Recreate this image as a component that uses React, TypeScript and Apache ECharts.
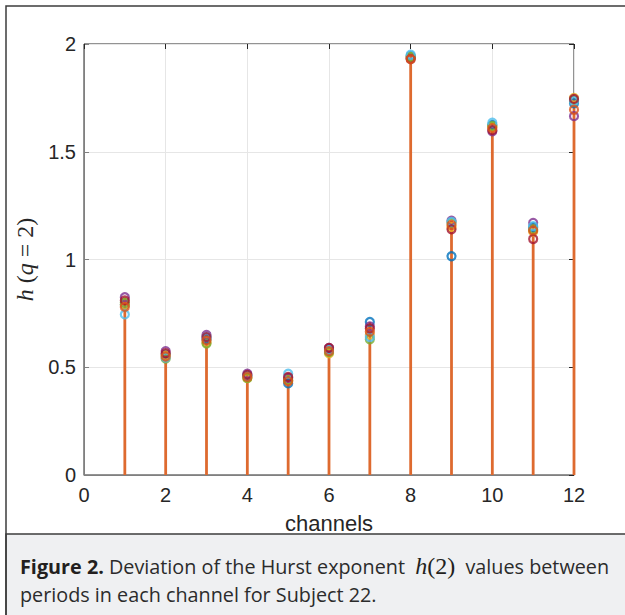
import React, { useEffect, useRef } from "react";
import * as echarts from "echarts";

const channels = [1, 2, 3, 4, 5, 6, 7, 8, 9, 10, 11, 12];
const xTicks = { min: 0, max: 12, interval: 2 };
const yTicks = { min: 0, max: 2, interval: 0.5 };

const period1 = [0.79, 0.56, 0.63, 0.46, 0.425, 0.585, 0.71, 1.945, 1.015, 1.625, 1.15, 1.725];
const period2 = [0.78, 0.55, 0.625, 0.455, 0.435, 0.575, 0.665, 1.93, 1.16, 1.61, 1.135, 1.695];
const period3 = [0.79, 0.555, 0.615, 0.45, 0.44, 0.565, 0.65, 1.94, 1.15, 1.615, 1.13, 1.75];
const period4 = [0.825, 0.575, 0.65, 0.47, 0.45, 0.59, 0.69, 1.935, 1.18, 1.595, 1.17, 1.665];
const period5 = [0.8, 0.54, 0.61, 0.45, 0.44, 0.57, 0.63, 1.94, 1.17, 1.62, 1.14, 1.74];
const period6 = [0.745, 0.545, 0.64, 0.46, 0.47, 0.58, 0.64, 1.95, 1.175, 1.635, 1.155, 1.735];
const period7 = [0.81, 0.565, 0.64, 0.465, 0.455, 0.59, 0.68, 1.93, 1.14, 1.6, 1.095, 1.745];

const periods = [period1, period2, period3, period4, period5, period6, period7];
const periodColors = ["#0072BD", "#D95319", "#EDB120", "#7E2F8E", "#77AC30", "#4DBEEE", "#A2142F"];
const drawOrder = [0, 2, 3, 4, 5, 6, 1];

const captionLine1 = "{b|Figure 2.} Deviation of the Hurst exponent  {hi|h}{hr|(2)}  values between";
const captionLine2 = "periods in each channel for Subject 22.";

const SANS = "Liberation Sans";
const SERIF = "Liberation Serif";

export default function App() {
  const ref = useRef<HTMLDivElement>(null);
  useEffect(() => {
    if (!ref.current) return;
    const chart = echarts.init(ref.current, null, { renderer: "svg" });
    const stemData = channels.map((c, i) => [c, Math.max(...periods.map((p) => p[i]))]);
    const series: any[] = [
      {
        type: "custom",
        name: "stems",
        xAxisIndex: 0,
        yAxisIndex: 0,
        data: stemData,
        encode: { x: 0, y: 1 },
        z: 2,
        renderItem: (params: any, api: any) => {
          const x = api.value(0);
          const y = api.value(1);
          const a = api.coord([x, 0]);
          const b = api.coord([x, y]);
          return {
            type: "line",
            shape: { x1: a[0], y1: a[1], x2: b[0], y2: b[1] },
            style: { stroke: "#DE6A2F", lineWidth: 2.8 },
          };
        },
      },
    ];
    drawOrder.forEach((k, j) => {
      series.push({
        type: "scatter",
        name: "Period " + (k + 1),
        xAxisIndex: 0,
        yAxisIndex: 0,
        data: channels.map((c, i) => [c, periods[k][i]]),
        symbol: "circle",
        symbolSize: 8,
        z: 3 + j,
        itemStyle: { color: "rgba(0,0,0,0)", borderColor: periodColors[k], borderWidth: 2.2 },
      });
    });
    const axisLabelStyle = { fontSize: 20, color: "#262626", fontFamily: SANS };
    chart.setOption({
      animation: false,
      backgroundColor: "#ffffff",
      grid: {
        left: 84,
        top: 44,
        width: 490,
        height: 431,
        show: true,
        borderColor: "#262626",
        borderWidth: 1,
        backgroundColor: "transparent",
      },
      xAxis: [
        {
          type: "value",
          ...xTicks,
          name: "channels",
          nameLocation: "middle",
          nameGap: 37,
          nameTextStyle: { fontSize: 22, color: "#262626", fontFamily: SANS },
          axisLine: { show: true, onZero: false, lineStyle: { color: "#808080", width: 1 } },
          axisTick: { show: true, inside: true, length: 5, lineStyle: { color: "#808080" } },
          axisLabel: { ...axisLabelStyle, margin: 10 },
          splitLine: { show: true, lineStyle: { color: "#e6e6e6", width: 1 } },
        },
        {
          type: "value",
          position: "top",
          ...xTicks,
          axisLine: { show: false, onZero: false },
          axisTick: { show: true, inside: true, length: 5, lineStyle: { color: "#262626" } },
          axisLabel: { show: false },
          splitLine: { show: false },
        },
      ],
      yAxis: [
        {
          type: "value",
          ...yTicks,
          name: "{i|h}{r| (}{i|q}{r| = 2)}",
          nameLocation: "middle",
          nameGap: 44,
          nameRotate: 90,
          nameTextStyle: {
            rich: {
              i: { fontSize: 24, fontStyle: "italic", fontFamily: SERIF, color: "#262626" },
              r: { fontSize: 24, fontFamily: SERIF, color: "#262626" },
            },
          },
          axisLine: { show: true, onZero: false, lineStyle: { color: "#808080", width: 1 } },
          axisTick: { show: true, inside: true, length: 5, lineStyle: { color: "#808080" } },
          axisLabel: { ...axisLabelStyle, margin: 8 },
          splitLine: { show: true, lineStyle: { color: "#e6e6e6", width: 1 } },
        },
        {
          type: "value",
          position: "right",
          ...yTicks,
          axisLine: { show: false, onZero: false },
          axisTick: { show: true, inside: true, length: 5, lineStyle: { color: "#262626" } },
          axisLabel: { show: false },
          splitLine: { show: false },
        },
      ],
      graphic: [
        {
          type: "rect",
          z: 0,
          shape: { x: 6, y: 534, width: 640, height: 100 },
          style: { fill: "#eff0f2", stroke: "#3c3c3c", lineWidth: 1.5 },
        },
        {
          type: "rect",
          z: 100,
          shape: { x: 6, y: 6, width: 640, height: 640 },
          style: { fill: "none", stroke: "#3c3c3c", lineWidth: 1.5 },
        },
        {
          type: "text",
          z: 101,
          x: 20,
          y: 566,
          style: {
            text: captionLine1,
            fontSize: 19.8,
            fontFamily: "Open Sans",
            fill: "#2b2b2b",
            verticalAlign: "middle",
            rich: {
              b: { fontSize: 19.8, fontWeight: "bold", fontFamily: "Open Sans", fill: "#231f20" },
              hi: { fontSize: 24, fontStyle: "italic", fontFamily: SERIF, fill: "#231f20" },
              hr: { fontSize: 24, fontFamily: SERIF, fill: "#231f20" },
            },
          },
        },
        {
          type: "text",
          z: 101,
          x: 20,
          y: 594,
          style: {
            text: captionLine2,
            fontSize: 19.8,
            fontFamily: "Open Sans",
            fill: "#2b2b2b",
            verticalAlign: "middle",
          },
        },
      ],
      series,
    });
    return () => chart.dispose();
  }, []);
  return <div ref={ref} style={{ position: "absolute", left: 0, top: 0, width: 625, height: 615 }} />;
}
